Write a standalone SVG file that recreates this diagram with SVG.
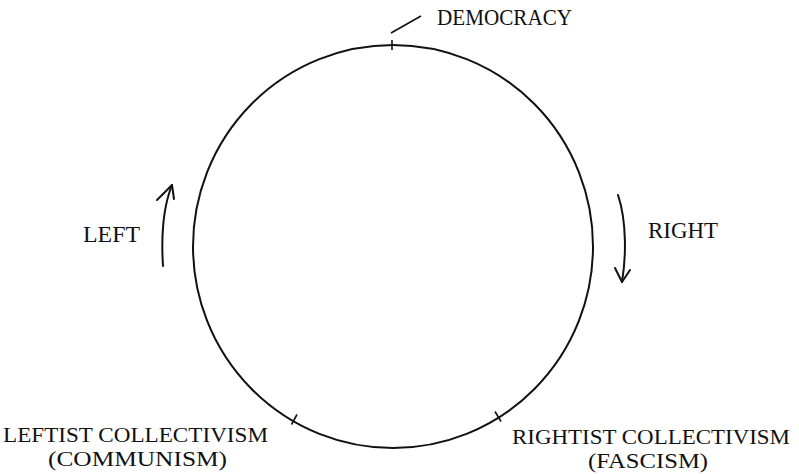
<svg xmlns="http://www.w3.org/2000/svg" width="799" height="474" viewBox="0 0 799 474">
<defs>
<style>
.lbl{font-family:"Liberation Serif","Times New Roman",serif;font-size:23px;fill:#111}
.sm{font-size:21px}
.ln{fill:none;stroke:#111;stroke-width:2;stroke-linecap:round;stroke-linejoin:round}
.tk{fill:none;stroke:#111;stroke-width:1.6}
</style>
</defs>
<rect width="799" height="474" fill="#fff"/>
<g id="circle">
<ellipse cx="393" cy="246.5" rx="200" ry="201.5" class="ln"/>
</g>
<g id="democracy">
<line x1="392" y1="40" x2="392" y2="50" class="tk"/>
<line x1="391" y1="33" x2="421" y2="16" class="tk"/>
<text x="437" y="25" class="lbl" textLength="135" lengthAdjust="spacingAndGlyphs">DEMOCRACY</text>
</g>
<g id="leftist">
<line x1="291.5" y1="424.5" x2="297" y2="414.5" class="tk"/>
<text x="3" y="442" class="lbl sm" textLength="265" lengthAdjust="spacingAndGlyphs">LEFTIST COLLECTIVISM</text>
<text x="48" y="466" class="lbl sm" textLength="179" lengthAdjust="spacingAndGlyphs">(COMMUNISM)</text>
</g>
<g id="rightist">
<line x1="495" y1="411.5" x2="501" y2="421.5" class="tk"/>
<text x="512" y="444" class="lbl sm" textLength="278" lengthAdjust="spacingAndGlyphs">RIGHTIST COLLECTIVISM</text>
<text x="588" y="468" class="lbl sm" textLength="120" lengthAdjust="spacingAndGlyphs">(FASCISM)</text>
</g>
<g id="left">
<text x="83" y="242" class="lbl" textLength="57" lengthAdjust="spacingAndGlyphs">LEFT</text>
</g>
<g id="right">
<text x="648" y="238" class="lbl" textLength="70" lengthAdjust="spacingAndGlyphs">RIGHT</text>
</g>
<g id="connectors">
<path d="M163 266 C161 235 164 205 172 185" class="ln"/>
<path d="M157 200 L172 185 L174 199" class="ln"/>
<path d="M618 195 C627 222 626 258 622 282" class="ln"/>
<path d="M615 268 L622 282 L630 270" class="ln"/>
</g>
</svg>
